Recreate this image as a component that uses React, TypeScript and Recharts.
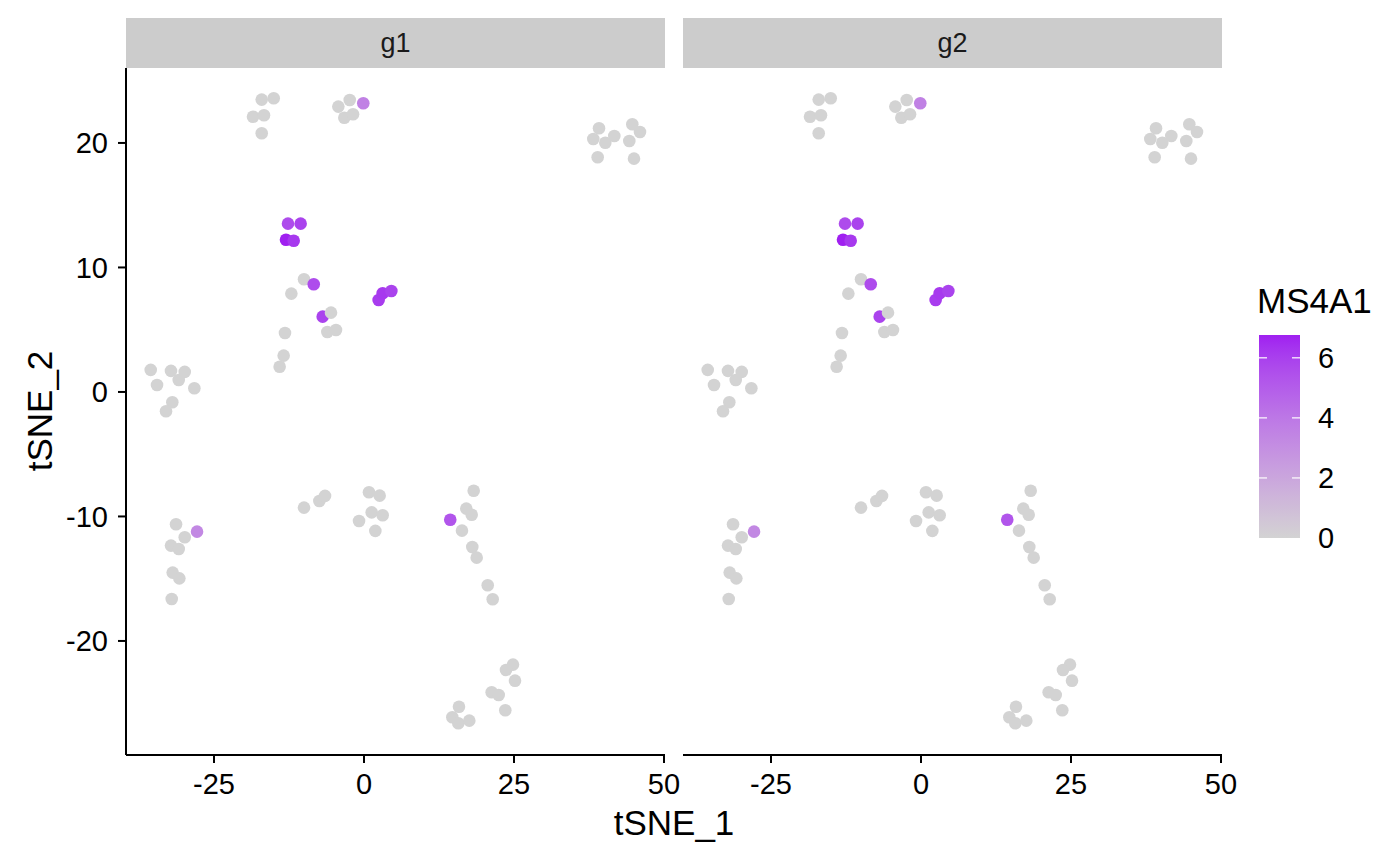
import React from 'react';
import { ScatterChart, Scatter, XAxis, YAxis } from 'recharts';

const FONT = '"Liberation Sans", Arial, Helvetica, sans-serif';

// t-SNE coordinates and MS4A1 expression per cell (same cells in both facets)
const tsne1 = [
  -17.05, -15.05, -18.5, -16.67, -17.05,
  -4.28, -2.38, -3.28, -1.83, -0.12,
  39.17, 38.22, 40.22, 41.72, 38.95, 44.72, 46.0, 44.22, 45.0,
  -10.0, -8.38, -12.11, -6.89, -5.5, -13.17, -6.11, -4.67, -13.39, -14.06,
  -12.67, -10.56, -13.0, -11.72,
  2.44, 3.11, 4.56,
  -35.55, -32.17, -29.88, -30.88, -34.5, -28.28, -31.95, -33.0,
  -31.33, -27.83, -29.88, -32.17, -30.88, -31.89, -30.78, -32.05,
  -10.0, -7.44, -6.5,
  0.83, 2.61, 1.28, 3.11, -0.83, 1.89,
  18.28, 17.05, 17.95, 14.38, 16.33, 18.05, 18.78, 20.62, 21.45,
  24.83, 23.67, 25.17, 21.28, 22.45, 23.55, 15.83, 14.72, 15.72, 17.55,
];
const tsne2 = [
  23.48, 23.59, 22.11, 22.22, 20.78,
  22.92, 23.45, 22.03, 22.3, 23.19,
  21.18, 20.32, 20.02, 20.56, 18.85, 21.5, 20.88, 20.16, 18.74,
  9.05, 8.65, 7.9, 6.05, 6.37, 4.74, 4.82, 4.98, 2.92, 2.03,
  13.52, 13.52, 12.23, 12.15,
  7.39, 7.93, 8.11,
  1.77, 1.69, 1.61, 0.96, 0.56, 0.3, -0.83, -1.55,
  -10.63, -11.22, -11.67, -12.34, -12.61, -14.51, -14.97, -16.63,
  -9.29, -8.76, -8.35,
  -8.06, -8.33, -9.67, -9.9, -10.36, -11.16,
  -7.93, -9.37, -9.86, -10.26, -11.14, -12.45, -13.31, -15.53, -16.65,
  -21.9, -22.33, -23.19, -24.12, -24.34, -25.57, -25.28, -26.13, -26.61, -26.4,
];
const ms4a1 = [
  0, 0, 0, 0, 0,
  0, 0, 0, 0, 3.6,
  0, 0, 0, 0, 0, 0, 0, 0, 0,
  0, 5.6, 0, 5.9, 0, 0, 0, 0, 0, 0,
  5.6, 5.9, 6.76, 6.2,
  6.1, 6.2, 5.9,
  0, 0, 0, 0, 0, 0, 0, 0,
  0, 3.3, 0, 0, 0, 0, 0, 0,
  0, 0, 0,
  0, 0, 0, 0, 0, 0,
  0, 0, 0, 5.3, 0, 0, 0, 0, 0,
  0, 0, 0, 0, 0, 0, 0, 0, 0, 0,
];

const panels = ['g1', 'g2'];
const xTicks = [-25, 0, 25, 50];
const yTicks = [-20, -10, 0, 10, 20];
const legendTicks = [0, 2, 4, 6];

const points = tsne1.map((x, i) => ({ x, y: tsne2[i], v: ms4a1[i] }));

const X_DOMAIN: [number, number] = [-39.67, 50.17];
const Y_DOMAIN: [number, number] = [-29.16, 26.02];

// Lab interpolation like ggplot2's scale_colour_gradient
const WHITE = [0.95047, 1.0, 1.08883];
function toLin(c: number) {
  c = c / 255;
  return c <= 0.04045 ? c / 12.92 : Math.pow((c + 0.055) / 1.055, 2.4);
}
function fromLin(c: number) {
  const v = c <= 0.0031308 ? 12.92 * c : 1.055 * Math.pow(c, 1 / 2.4) - 0.055;
  return Math.max(0, Math.min(255, Math.round(v * 255)));
}
function rgbToLab(rgb: number[]) {
  const [r, g, b] = rgb.map(toLin);
  const X = (0.4124 * r + 0.3576 * g + 0.1805 * b) / WHITE[0];
  const Y = (0.2126 * r + 0.7152 * g + 0.0722 * b) / WHITE[1];
  const Z = (0.0193 * r + 0.1192 * g + 0.9505 * b) / WHITE[2];
  const f = (t: number) => (t > 0.008856 ? Math.cbrt(t) : 7.787 * t + 16 / 116);
  const fx = f(X), fy = f(Y), fz = f(Z);
  return [116 * fy - 16, 500 * (fx - fy), 200 * (fy - fz)];
}
function labToRgb(lab: number[]) {
  const [L, a, bb] = lab;
  const fy = (L + 16) / 116;
  const fx = fy + a / 500;
  const fz = fy - bb / 200;
  const inv = (t: number) => (t * t * t > 0.008856 ? t * t * t : (t - 16 / 116) / 7.787);
  const X = inv(fx) * WHITE[0], Y = inv(fy) * WHITE[1], Z = inv(fz) * WHITE[2];
  const r = 3.2406 * X - 1.5372 * Y - 0.4986 * Z;
  const g = -0.9689 * X + 1.8758 * Y + 0.0415 * Z;
  const b = 0.0557 * X - 0.204 * Y + 1.057 * Z;
  return `rgb(${fromLin(r)},${fromLin(g)},${fromLin(b)})`;
}
const LOW_LAB = rgbToLab([211, 211, 211]);
const HIGH_LAB = rgbToLab([160, 32, 240]);
const VMAX = Math.max(...ms4a1);
function colorFor(v: number) {
  const t = Math.max(0, Math.min(1, v / VMAX));
  return labToRgb(LOW_LAB.map((l, i) => l + (HIGH_LAB[i] - l) * t));
}

const Dot = (props: any) => {
  const { cx, cy, payload } = props;
  if (cx == null || cy == null) return null;
  return <circle cx={cx} cy={cy} r={6.3} fill={colorFor(payload.v)} />;
};

const axisStroke = { stroke: '#000', strokeWidth: 2 };
const tickStyle = { fill: '#000', fontSize: 29, fontFamily: FONT };

function Panel({ left, width, rightMargin, showY }: { left: number; width: number; rightMargin: number; showY: boolean }) {
  return (
    <div style={{ position: 'absolute', left, top: 0 }}>
      <ScatterChart width={width} height={865} margin={{ top: 68, right: rightMargin, bottom: 0, left: 0 }}>
        <XAxis
          type="number"
          dataKey="x"
          domain={X_DOMAIN}
          allowDataOverflow
          ticks={xTicks}
          interval={0}
          height={110}
          tickSize={8}
          tickMargin={10}
          axisLine={axisStroke}
          tickLine={axisStroke}
          tick={tickStyle}
        />
        <YAxis
          type="number"
          dataKey="y"
          domain={Y_DOMAIN}
          allowDataOverflow
          ticks={yTicks}
          interval={0}
          width={126}
          hide={!showY}
          tickSize={8}
          tickMargin={10}
          axisLine={axisStroke}
          tickLine={axisStroke}
          tick={tickStyle}
        />
        <Scatter data={points} isAnimationActive={false} shape={Dot} />
      </ScatterChart>
    </div>
  );
}

const LEG_X = 1259, LEG_W = 41, LEG_TOP = 335, LEG_BOT = 538;

export default function App() {
  const stops = Array.from({ length: 21 }, (_, i) => i / 20);
  const legY = (v: number) => LEG_BOT - (v / VMAX) * (LEG_BOT - LEG_TOP);
  const strips = [
    { x: 126, w: 539 },
    { x: 683, w: 539 },
  ];
  return (
    <div style={{ position: 'absolute', left: 0, top: 0, width: 1400, height: 865, background: '#fff', fontFamily: FONT }}>
      <Panel left={0} width={700} rightMargin={35} showY />
      <Panel left={683} width={580} rightMargin={41} showY={false} />
      <svg width={1400} height={865} style={{ position: 'absolute', left: 0, top: 0, pointerEvents: 'none' }}>
        <defs>
          <linearGradient id="legGrad" x1="0" y1="1" x2="0" y2="0">
            {stops.map((s) => (
              <stop key={s} offset={s} stopColor={colorFor(s * VMAX)} />
            ))}
          </linearGradient>
        </defs>
        {panels.map((p, i) => (
          <g key={p}>
            <rect x={strips[i].x} y={18} width={strips[i].w} height={50} fill="#CCCCCC" />
            <text x={strips[i].x + strips[i].w / 2} y={52} textAnchor="middle" fontSize={27} fontFamily={FONT} fill="#1a1a1a">
              {p}
            </text>
          </g>
        ))}
        <text x={674} y={835} textAnchor="middle" fontSize={35} fontFamily={FONT} fill="#000">
          tSNE_1
        </text>
        <text x={52} y={411} textAnchor="middle" fontSize={35} fontFamily={FONT} fill="#000" transform="rotate(-90 52 411)">
          tSNE_2
        </text>
        <text x={1257} y={313} fontSize={35} fontFamily={FONT} fill="#000">
          MS4A1
        </text>
        <rect x={LEG_X} y={LEG_TOP} width={LEG_W} height={LEG_BOT - LEG_TOP} fill="url(#legGrad)" />
        {legendTicks.map((t) => (
          <g key={t}>
            {t > 0 && (
              <>
                <line x1={LEG_X} x2={LEG_X + 8} y1={legY(t)} y2={legY(t)} stroke="#fff" strokeWidth={1.2} />
                <line x1={LEG_X + LEG_W - 8} x2={LEG_X + LEG_W} y1={legY(t)} y2={legY(t)} stroke="#fff" strokeWidth={1.2} />
              </>
            )}
            <text x={1318} y={legY(t)} dy="0.36em" fontSize={29} fontFamily={FONT} fill="#000">
              {t}
            </text>
          </g>
        ))}
      </svg>
    </div>
  );
}
